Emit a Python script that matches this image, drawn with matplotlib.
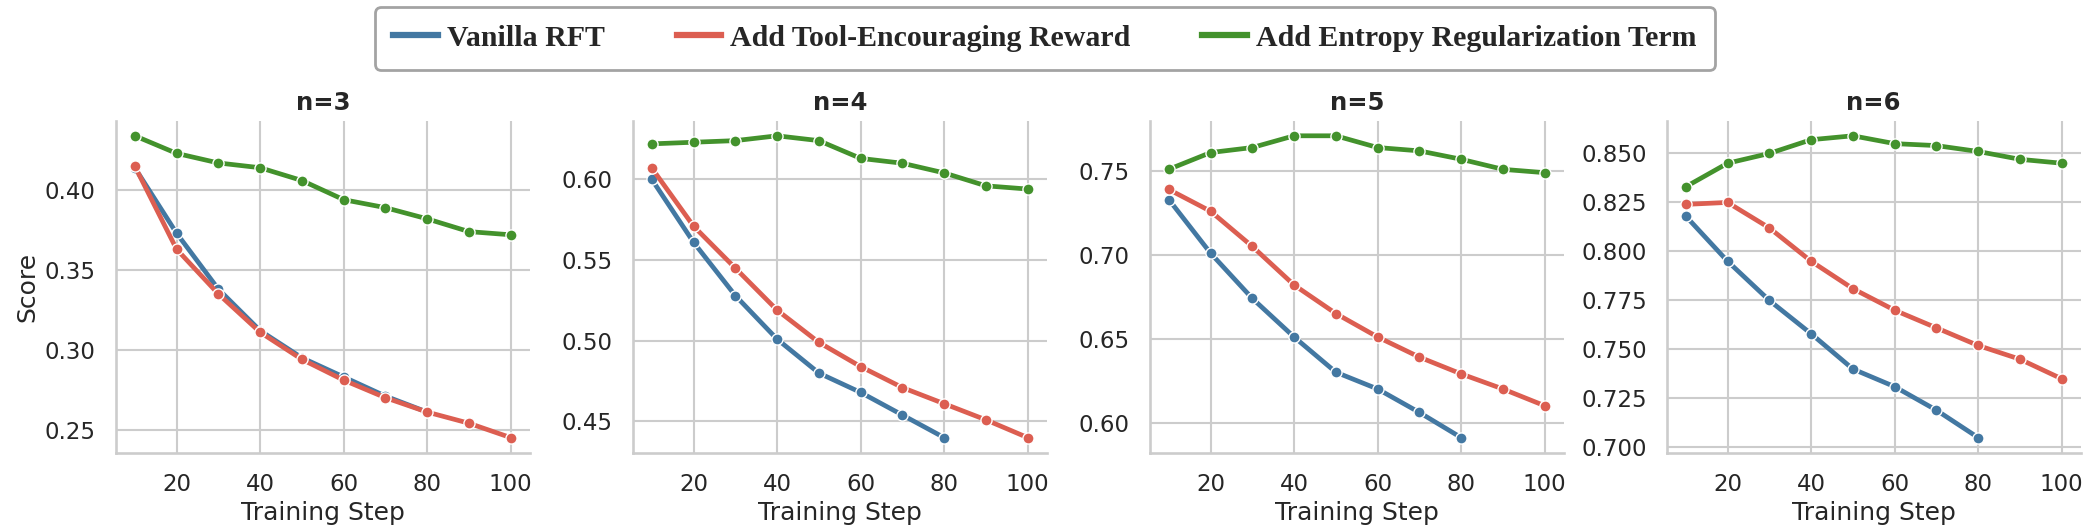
import matplotlib
matplotlib.use("Agg")
import matplotlib.pyplot as plt

steps = [10, 20, 30, 40, 50, 60, 70, 80, 90, 100]
panel_titles = ["n=3", "n=4", "n=5", "n=6"]
series_names = ["Vanilla RFT", "Add Tool-Encouraging Reward", "Add Entropy Regularization Term"]

# scores (Vanilla RFT only runs to step 80)
vanilla_n3 = [0.414, 0.373, 0.338, 0.312, 0.295, 0.283, 0.271, 0.261]
vanilla_n4 = [0.600, 0.561, 0.528, 0.501, 0.480, 0.468, 0.454, 0.440]
vanilla_n5 = [0.733, 0.701, 0.674, 0.651, 0.630, 0.620, 0.606, 0.591]
vanilla_n6 = [0.818, 0.795, 0.775, 0.758, 0.740, 0.731, 0.719, 0.705]

tool_n3 = [0.415, 0.363, 0.335, 0.311, 0.294, 0.281, 0.270, 0.261, 0.254, 0.245]
tool_n4 = [0.607, 0.571, 0.545, 0.519, 0.499, 0.484, 0.471, 0.461, 0.451, 0.440]
tool_n5 = [0.739, 0.726, 0.705, 0.682, 0.665, 0.651, 0.639, 0.629, 0.620, 0.610]
tool_n6 = [0.824, 0.825, 0.812, 0.795, 0.781, 0.770, 0.761, 0.752, 0.745, 0.735]

entropy_n3 = [0.434, 0.423, 0.417, 0.414, 0.406, 0.394, 0.389, 0.382, 0.374, 0.372]
entropy_n4 = [0.622, 0.623, 0.624, 0.627, 0.624, 0.613, 0.610, 0.604, 0.596, 0.594]
entropy_n5 = [0.751, 0.761, 0.764, 0.771, 0.771, 0.764, 0.762, 0.757, 0.751, 0.749]
entropy_n6 = [0.833, 0.845, 0.850, 0.857, 0.859, 0.855, 0.854, 0.851, 0.847, 0.845]

vanilla = [vanilla_n3, vanilla_n4, vanilla_n5, vanilla_n6]
tool = [tool_n3, tool_n4, tool_n5, tool_n6]
entropy = [entropy_n3, entropy_n4, entropy_n5, entropy_n6]
colors = ["#4378a2", "#dc5e51", "#43922c"]

plt.rcParams.update({
    "font.family": "DejaVu Sans",
    "text.color": "#262626",
    "axes.labelcolor": "#262626",
    "xtick.color": "#262626",
    "ytick.color": "#262626",
    "axes.edgecolor": "#cccccc",
    "axes.linewidth": 1.9,
    "grid.color": "#cccccc",
    "grid.linewidth": 1.5,
    "xtick.bottom": False,
    "ytick.left": False,
    "xtick.major.pad": 11,
    "ytick.major.pad": 11,
    "xtick.labelsize": 16.5,
    "ytick.labelsize": 16.5,
    "axes.labelsize": 18,
})

W, H = 2096, 530
fig = plt.figure(figsize=(W / 100, H / 100), dpi=100)
lefts = [116, 633, 1150, 1667]
ax_w, top, bottom = 413.5, 120.7, 452.7

handles = []
for i in range(4):
    ax = fig.add_axes([lefts[i] / W, 1 - bottom / H, ax_w / W, (bottom - top) / H])
    ax.grid(True)
    ax.set_axisbelow(True)
    for s in ["top", "right"]:
        ax.spines[s].set_visible(False)
    data = [vanilla[i], tool[i], entropy[i]]
    hs = []
    for j in range(3):
        x = steps[:len(data[j])]
        h, = ax.plot(x, data[j], color=colors[j], lw=3.4, marker="o", ms=8,
                     mec="white", mew=1.0, label=series_names[j])
        hs.append(h)
    handles = hs
    ax.set_xticks([20, 40, 60, 80, 100])
    ax.set_title(panel_titles[i], fontsize=17.5, fontweight="bold", pad=8)
    ax.set_xlabel("Training Step")
    if i == 0:
        ax.set_ylabel("Score")

leg = fig.legend(handles, series_names, loc="upper center", bbox_to_anchor=(1045 / W, 1 - 6.7 / H),
                 borderaxespad=0, ncol=3, frameon=True, fancybox=True, handlelength=1.5,
                 handletextpad=0.3, columnspacing=2.4, borderpad=0.6,
                 prop={"family": "Liberation Serif", "weight": "bold", "size": 21.5})
leg.get_frame().set_edgecolor("#8c8c8c")
leg.get_frame().set_linewidth(2)
for line in leg.get_lines():
    line.set_linewidth(4.5)
    line.set_marker("")

fig.savefig("out.png", dpi=100)
